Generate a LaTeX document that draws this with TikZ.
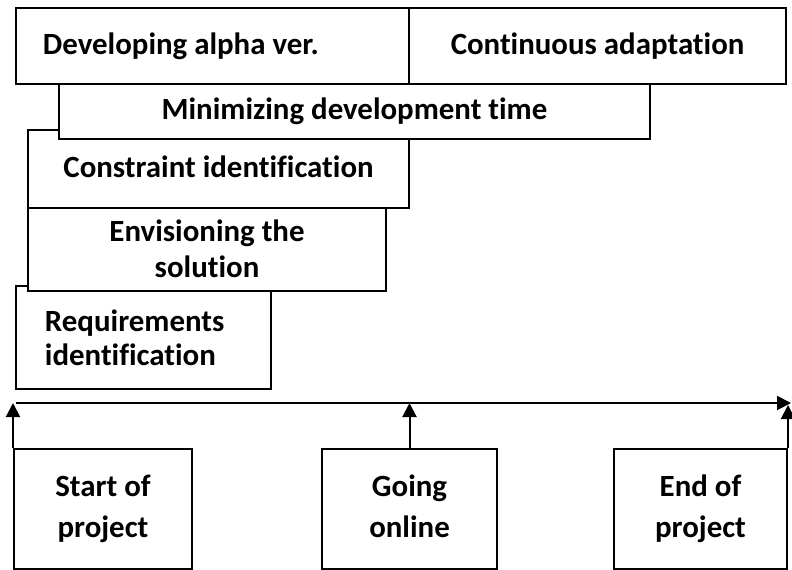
\documentclass[tikz,border=0pt]{standalone}
\usepackage{fontspec}
\setmainfont{Carlito}[Ligatures=NoCommon]
\usepackage{tikz}
\usetikzlibrary{positioning,arrows.meta}

\begin{document}
\begin{tikzpicture}[
    x=1bp, y=-1bp,
    box/.style={rectangle, draw, line width=2bp, fill=white, align=center,
                inner sep=0pt, font=\fontsize{31}{34}\selectfont\bfseries},
    milestone/.style={box, font=\fontsize{31}{41}\selectfont\bfseries},
    arrow/.style={-{Triangle[length=14bp, width=14bp]}, line width=2bp},
]
    \useasboundingbox (0,0) rectangle (792,570);

    % Phases (drawn from the bottom up, so upper ones overlap)
    \node[box, minimum width=255bp, minimum height=103bp] (req) at (143.5,337.5) {\makebox[197bp][l]{Requirements}\\\makebox[197bp][l]{identification}};
    \node[box, minimum width=358bp, minimum height=84bp, font=\fontsize{31}{36}\selectfont\bfseries] (envis) at (207,249) {Envisioning the\\solution};
    \node[box, minimum width=381bp, minimum height=78bp] (constr) at (218.5,169) {\raisebox{5bp}{Constraint identification}};
    \node[box, minimum width=591bp, minimum height=55bp] (mintime) at (354.5,111.5) {Minimizing development time};
    \node[box, minimum width=393bp, minimum height=76bp] (alpha) at (212.5,46) {\makebox[339bp][l]{Developing alpha ver.}};
    \node[box, minimum width=377bp, minimum height=76bp] (adapt) at (597.5,46) {Continuous adaptation};

    % Timeline
    \coordinate (t0) at (16,403);
    \coordinate (t1) at (791,403);
    \draw[arrow] (t0) -- (t1);

    % Milestones
    \node[milestone, minimum width=178bp, minimum height=120bp] (start) at (103,509) {\strut Start of\\project\strut};
    \node[milestone, minimum width=175bp, minimum height=120bp] (online) at (409.5,509) {\strut Going\\online\strut};
    \node[milestone, minimum width=173bp, minimum height=120bp] (finish) at (700.5,509) {\strut End of\\project\strut};

    % Arrows
    \draw[arrow] (start.north west) -- (start.north west |- t0);
    \draw[arrow] (online.north) -- (online.north |- t0);
    \draw[arrow] (finish.north east) -- ++(0,-43);
\end{tikzpicture}
\end{document}
